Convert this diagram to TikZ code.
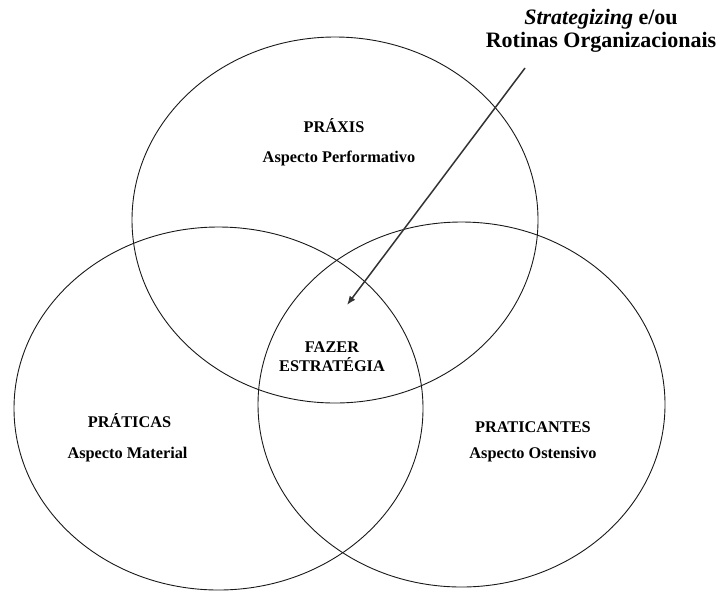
\documentclass[tikz,border=0pt]{standalone}
\usepackage{fontspec}
\setmainfont{Liberation Serif}
\usetikzlibrary{arrows.meta}
\begin{document}
\begin{tikzpicture}[x=1pt,y=-1pt,
  circ/.style={draw=black!90, line width=0.9pt},
  lbl/.style={font=\fontsize{16.3}{19}\selectfont\bfseries, inner sep=0pt, align=center},
  toplbl/.style={font=\fontsize{22}{23}\selectfont\bfseries, inner sep=0pt, align=center},
  pointer/.style={draw=black!80, line width=1.5pt, -{Latex[length=9pt,width=7pt]}}]
\useasboundingbox (0,0) rectangle (719,592);
% the three overlapping sets
\draw[circ] (335,220) ellipse [x radius=203, y radius=183];
\draw[circ] (218.5,408.5) ellipse [x radius=204.5, y radius=181.5];
\draw[circ] (461.5,404.5) ellipse [x radius=203.5, y radius=182.5];
% set labels
\node[lbl] (praxis) at (334,126) {PRÁXIS};
\node[lbl] (praxisasp) at (339,158) {Aspecto Performativo};
\node[lbl] (praticas) at (129.5,421) {PRÁTICAS};
\node[lbl] (praticasasp) at (127.5,455) {Aspecto Material};
\node[lbl] (praticantes) at (533,427) {PRATICANTES};
\node[lbl] (praticantesasp) at (533,455) {Aspecto Ostensivo};
\node[lbl] (centre) at (332,357) {FAZER\\ESTRATÉGIA};
% annotation pointing into the common region
\node[toplbl] (note) at (601,31) {\textit{Strategizing} e/ou\\Rotinas Organizacionais};
\coordinate (tail) at (525,68);
\coordinate (tip) at (347,305);
\draw[pointer] (tail) -- (tip);
\end{tikzpicture}
\end{document}
